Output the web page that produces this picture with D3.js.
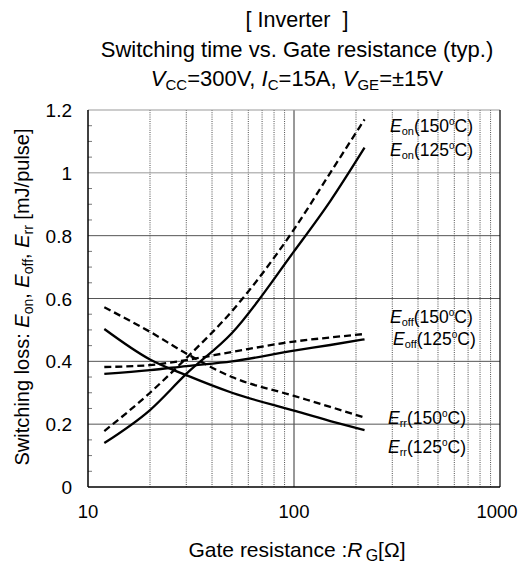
<!DOCTYPE html>
<html><head><meta charset="utf-8">
<script src="https://cdn.jsdelivr.net/npm/d3@7"></script>
<style>body{margin:0;background:#fff}svg{display:block;font-family:"Liberation Sans",Arial,sans-serif}</style>
</head><body><svg id="c" width="519" height="565"></svg>
<script>
const rg = [12, 20, 30, 50, 100, 150, 220];
const eon125 = [0.14, 0.245, 0.36, 0.49, 0.75, 0.91, 1.08];
const eon150 = [0.178, 0.30, 0.41, 0.56, 0.82, 1.0, 1.17];
const eoff125 = [0.36, 0.372, 0.385, 0.40, 0.434, 0.452, 0.47];
const eoff150 = [0.382, 0.388, 0.404, 0.43, 0.463, 0.476, 0.487];
const err125 = [0.503, 0.406, 0.356, 0.30, 0.243, 0.21, 0.181];
const err150 = [0.572, 0.494, 0.425, 0.35, 0.29, 0.255, 0.221];
const yTicks = [0, 0.2, 0.4, 0.6, 0.8, 1, 1.2];
const xTicks = [10, 100, 1000];
const series = [
  {vals: eon150, dashed: true, lab: "on", temp: "150", lx: 390, ly: 132},
  {vals: eon125, dashed: false, lab: "on", temp: "125", lx: 390, ly: 156},
  {vals: eoff150, dashed: true, lab: "off", temp: "150", lx: 390, ly: 323},
  {vals: eoff125, dashed: false, lab: "off", temp: "125", lx: 393, ly: 345},
  {vals: err150, dashed: true, lab: "rr", temp: "150", lx: 388, ly: 424},
  {vals: err125, dashed: false, lab: "rr", temp: "125", lx: 388, ly: 453}
];

const svg = d3.select("#c");
const L = 88, R = 500, T = 110, B = 487;
const x = d3.scaleLog().domain([10, 1000]).range([L, R]);
const y = d3.scaleLinear().domain([0, 1.2]).range([B, T]);

// vertical grid
const minor = [];
for (let d of [10, 100]) for (let k = 2; k <= 9; k++) minor.push(d * k);
svg.append("g").selectAll("line").data(minor).join("line")
  .attr("x1", d => x(d)).attr("x2", d => x(d)).attr("y1", T).attr("y2", B)
  .attr("stroke", "#222").attr("stroke-width", 0.8).attr("stroke-dasharray", "1,1.2");
svg.append("line").attr("x1", x(100)).attr("x2", x(100)).attr("y1", T).attr("y2", B)
  .attr("stroke", "#333").attr("stroke-width", 1);
// horizontal grid
svg.append("g").selectAll("line").data(yTicks.filter(v => v > 0 && v < 1.2)).join("line")
  .attr("x1", L).attr("x2", R).attr("y1", d => y(d)).attr("y2", d => y(d))
  .attr("stroke", d => d === 1 ? "#999" : "#555").attr("stroke-width", 1);
// minor y ticks
const yMinor = d3.range(0.05, 1.2, 0.05).filter(v => Math.abs(v * 5 - Math.round(v * 5)) > 1e-6);
svg.append("g").selectAll("line").data(yMinor).join("line")
  .attr("x1", L).attr("x2", L + 4).attr("y1", d => y(d)).attr("y2", d => y(d))
  .attr("stroke", "#777").attr("stroke-width", 1);
// frame
svg.append("line").attr("x1", L).attr("x2", R).attr("y1", T).attr("y2", T).attr("stroke", "#999");
svg.append("line").attr("x1", R).attr("x2", R).attr("y1", T).attr("y2", B).attr("stroke", "#111").attr("stroke-width", 1.3);
svg.append("line").attr("x1", L).attr("x2", L).attr("y1", T).attr("y2", B).attr("stroke", "#000").attr("stroke-width", 1.5);
svg.append("line").attr("x1", L).attr("x2", R).attr("y1", B).attr("y2", B).attr("stroke", "#000").attr("stroke-width", 1.5);

// tick labels
svg.append("g").selectAll("text").data(yTicks).join("text")
  .attr("x", 72).attr("y", d => y(d) + 7).attr("text-anchor", "end")
  .attr("font-size", 19).text(d => d3.format("")(d));
svg.append("g").selectAll("text").data(xTicks).join("text")
  .attr("x", d => Math.min(x(d), 497)).attr("y", 518).attr("text-anchor", "middle")
  .attr("font-size", 18.5).text(d => d);

// curves
const line = d3.line().x((d, i) => x(rg[i])).y(d => y(d)).curve(d3.curveMonotoneX);
series.forEach(s => {
  svg.append("path").attr("d", line(s.vals)).attr("fill", "none")
    .attr("stroke", "#000").attr("stroke-width", 2.3)
    .attr("stroke-dasharray", s.dashed ? "7,4" : null);
});
// labels
series.forEach(s => {
  const t = svg.append("text").attr("x", s.lx).attr("y", s.ly).attr("font-size", 17.5);
  t.append("tspan").attr("font-style", "italic").text("E");
  t.append("tspan").attr("font-size", 11).attr("dy", 3).text(s.lab);
  t.append("tspan").attr("dy", -3).text("(" + s.temp);
  t.append("tspan").attr("font-size", 10).attr("dy", -7).text("o");
  t.append("tspan").attr("dy", 7).text("C)");
});

// titles
const cx = 297;
svg.append("text").attr("x", cx).attr("y", 27).attr("text-anchor", "middle").attr("font-size", 21.5).text("[ Inverter\u00a0\u00a0]");
svg.append("text").attr("x", cx).attr("y", 57).attr("text-anchor", "middle").attr("font-size", 22).text("Switching time vs. Gate resistance (typ.)");
const t3 = svg.append("text").attr("x", cx).attr("y", 86).attr("text-anchor", "middle").attr("font-size", 22);
t3.append("tspan").attr("font-style", "italic").text("V");
t3.append("tspan").attr("font-size", 15).attr("dy", 4).text("CC");
t3.append("tspan").attr("dy", -4).text("=300V, ");
t3.append("tspan").attr("font-style", "italic").text("I");
t3.append("tspan").attr("font-size", 15).attr("dy", 4).text("C");
t3.append("tspan").attr("dy", -4).text("=15A, ");
t3.append("tspan").attr("font-style", "italic").text("V");
t3.append("tspan").attr("font-size", 15).attr("dy", 4).text("GE");
t3.append("tspan").attr("dy", -4).text("=\u00b115V");

// x label
const xl = svg.append("text").attr("x", cx).attr("y", 557).attr("text-anchor", "middle").attr("font-size", 21);
xl.append("tspan").text("Gate resistance :");
xl.append("tspan").attr("font-style", "italic").text("R");
xl.append("tspan").attr("font-size", 16).attr("dy", 4).text("\u2009G");
xl.append("tspan").attr("dy", -4).text("[\u03a9]");

// y label
const yl = svg.append("text").attr("transform", "translate(29,297) rotate(-90)").attr("text-anchor", "middle").attr("font-size", 20);
yl.append("tspan").text("Switching loss: ");
yl.append("tspan").attr("font-style", "italic").text("E");
yl.append("tspan").attr("font-size", 14).attr("dy", 4).text("on");
yl.append("tspan").attr("dy", -4).text(", ");
yl.append("tspan").attr("font-style", "italic").text("E");
yl.append("tspan").attr("font-size", 14).attr("dy", 4).text("off");
yl.append("tspan").attr("dy", -4).text(", ");
yl.append("tspan").attr("font-style", "italic").text("E");
yl.append("tspan").attr("font-size", 14).attr("dy", 4).text("rr");
yl.append("tspan").attr("dy", -4).text(" [mJ/pulse]");
</script></body></html>
